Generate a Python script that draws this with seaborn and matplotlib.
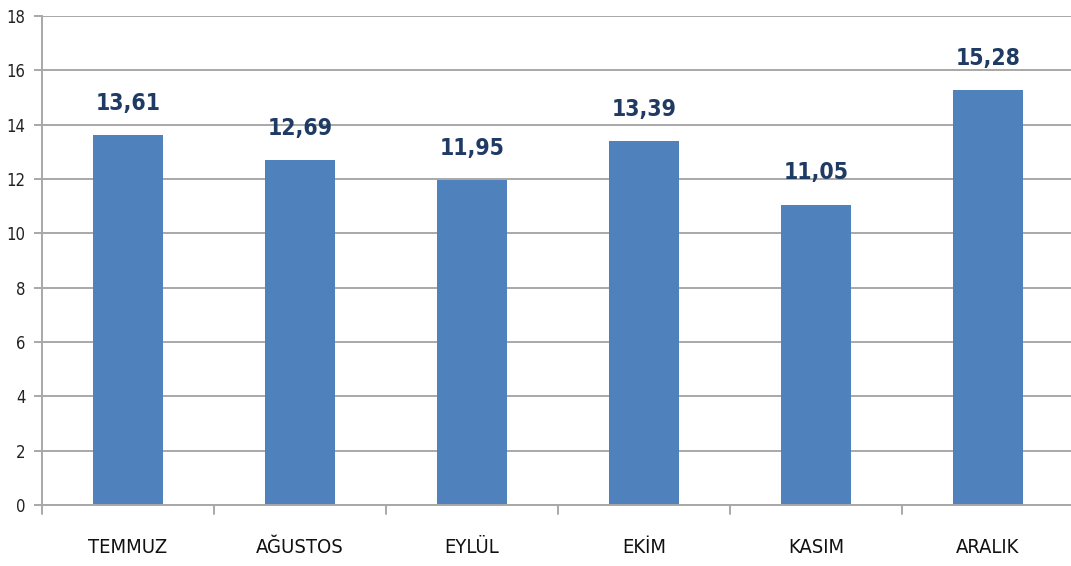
import matplotlib
matplotlib.use("Agg")
import matplotlib.pyplot as plt
import seaborn as sns
import pandas as pd

months = ["TEMMUZ", "AĞUSTOS", "EYLÜL", "EKİM", "KASIM", "ARALIK"]
values = [13.61, 12.69, 11.95, 13.39, 11.05, 15.28]
value_labels = ["13,61", "12,69", "11,95", "13,39", "11,05", "15,28"]
y_ticks = [0, 2, 4, 6, 8, 10, 12, 14, 16, 18]

sns.set_theme(style="white")
plt.rcParams["font.family"] = ["DejaVu Sans"]
plt.rcParams["font.stretch"] = "condensed"

df = pd.DataFrame({"ay": months, "deger": values})

fig = plt.figure(figsize=(10.71, 5.66), dpi=100)
ax = fig.add_axes([0.0392, 0.1078, 0.9636, 0.8639])

grid_color = "#A8A8A8"
lw = 1.4
ax.set_axisbelow(True)
for y in y_ticks:
    ax.axhline(y, color=grid_color, lw=lw, zorder=0)

sns.barplot(data=df, x="ay", y="deger", color="#4F81BD", saturation=1,
            width=0.41, linewidth=0, ax=ax, zorder=2)

for i, (v, lab) in enumerate(zip(values, value_labels)):
    ax.text(i, v + 0.75, lab, ha="center", va="bottom", fontsize=16.5,
            fontweight="bold", fontstretch="condensed", color="#1F3A63", zorder=3)

ax.set_xlim(-0.5, 5.5)
ax.set_ylim(0, 18)
ax.set_yticks(y_ticks)
ax.set_yticklabels([str(t) for t in y_ticks], fontsize=12, color="#222222",
                   fontstretch="condensed")
ax.set_xticks(range(len(months)))
ax.set_xticklabels(months, fontsize=14.5, color="#111111", fontstretch="condensed")
ax.set_xlabel("")
ax.set_ylabel("")

# category boundary ticks below the baseline
for b in [i - 0.5 for i in range(len(months) + 1)]:
    ax.plot([b, b], [0, -0.35], color=grid_color, lw=lw, clip_on=False, zorder=1)

ax.tick_params(axis="x", length=0, pad=24)
ax.tick_params(axis="y", length=6, width=lw, color=grid_color, pad=6, left=True)

for side in ["top", "right"]:
    ax.spines[side].set_visible(False)
ax.spines["left"].set_color(grid_color)
ax.spines["left"].set_linewidth(lw)
ax.spines["bottom"].set_color(grid_color)
ax.spines["bottom"].set_linewidth(lw)

fig.savefig("out.png", dpi=100)
